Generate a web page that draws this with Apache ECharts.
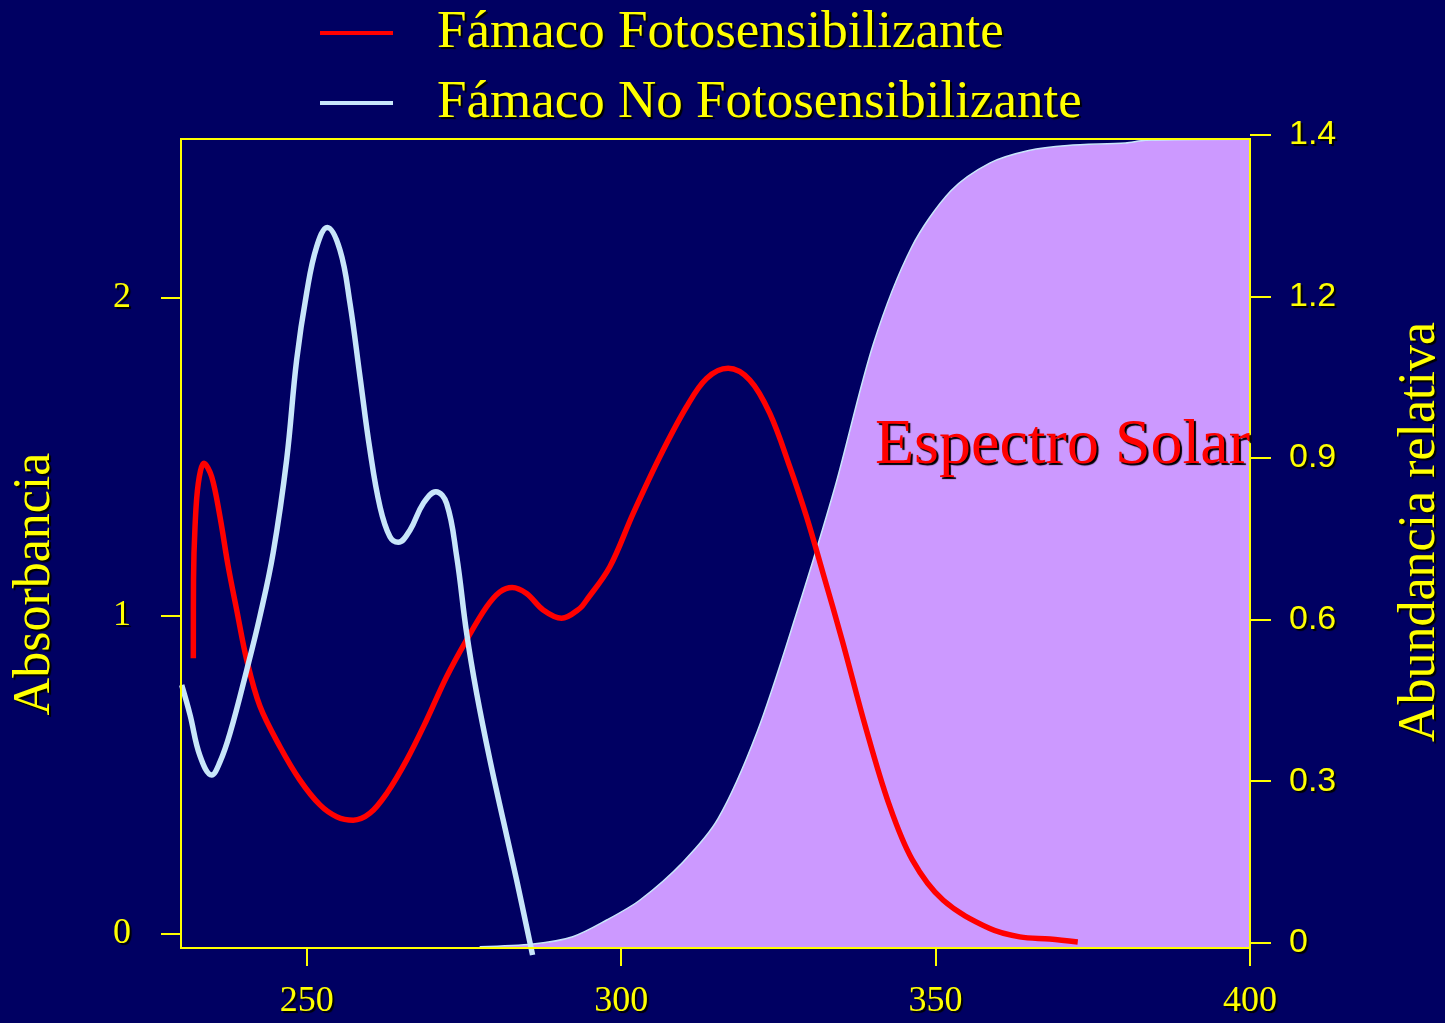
<!DOCTYPE html>
<html>
<head>
<meta charset="utf-8">
<script src="https://cdn.jsdelivr.net/npm/echarts@6/dist/echarts.min.js"></script>
<style>
html,body{margin:0;padding:0;background:#000062;}
#chart{width:1445px;height:1023px;}
</style>
</head>
<body>
<div id="chart"></div>
<script>
// ---- data ----
const redName = 'Fámaco Fotosensibilizante';
const blueName = 'Fámaco No Fotosensibilizante';

const redWavelengths = [231.96, 231.99, 232.23, 232.75, 233.66, 234.88, 236.20, 237.47, 238.86, 240.45, 242.56, 245.74, 248.92, 252.10, 254.75, 257.39, 260.05, 262.70, 265.88, 269.06, 272.24, 275.42, 278.60, 280.72, 282.67, 284.96, 287.60, 290.52, 293.43, 294.50, 298.20, 301.91, 306.15, 310.40, 313.58, 317.01, 320.46, 323.64, 326.82, 329.48, 332.11, 335.14, 338.86, 342.56, 346.28, 351.22, 358.62, 363.39, 368.16, 372.61];
const redAbsorbance = [0.867, 1.113, 1.281, 1.417, 1.480, 1.438, 1.312, 1.160, 1.019, 0.862, 0.716, 0.589, 0.484, 0.406, 0.369, 0.358, 0.380, 0.442, 0.547, 0.673, 0.809, 0.925, 1.029, 1.076, 1.090, 1.071, 1.019, 0.993, 1.024, 1.050, 1.155, 1.323, 1.501, 1.658, 1.747, 1.779, 1.742, 1.637, 1.469, 1.312, 1.134, 0.924, 0.651, 0.410, 0.234, 0.106, 0.017, -0.009, -0.016, -0.025];

const blueWavelengths = [230.11, 231.43, 233.02, 234.88, 236.20, 237.79, 240.45, 242.56, 244.67, 246.80, 248.39, 249.98, 251.57, 253.26, 255.28, 256.87, 258.46, 260.05, 261.64, 263.23, 264.55, 266.41, 268.52, 270.54, 272.24, 273.83, 275.42, 277.01, 279.13, 281.24, 283.37, 285.91];
const blueAbsorbance = [0.783, 0.690, 0.560, 0.500, 0.541, 0.631, 0.830, 1.000, 1.200, 1.491, 1.805, 2.016, 2.161, 2.222, 2.151, 1.984, 1.753, 1.522, 1.344, 1.249, 1.232, 1.270, 1.354, 1.391, 1.354, 1.189, 0.947, 0.758, 0.547, 0.358, 0.170, -0.066];

const solarWavelengths = [277.5, 286.0, 292.3, 297.7, 303.0, 309.8, 315.4, 321.6, 327.8, 334.0, 340.1, 346.2, 352.4, 358.6, 364.8, 371.0, 380.2, 383.4, 400.0];
const solarAbundance = [-0.0074, -0.0024, 0.0112, 0.0421, 0.0793, 0.1495, 0.2302, 0.3907, 0.6084, 0.8462, 1.1118, 1.2920, 1.3960, 1.4479, 1.4713, 1.4807, 1.4853, 1.4902, 1.4922];

const xTickValues = [250, 300, 350, 400];
const leftTickValues = [0, 1, 2];
const rightTickValues = [0, 0.3, 0.6, 0.9, 1.2, 1.5];
const rightTickLabels = ['0', '0.3', '0.6', '0.9', '1.2', '1.4'];

const leftTitle = 'Absorbancia';
const rightTitle = 'Abundancia relativa';
const annotation = 'Espectro Solar';

// ---- styling ----
const YELLOW = '#FFFF00';
const RED = '#FF0000';
const LIGHTBLUE = '#C8E6FA';
const LAVENDER = '#CC99FF';
const SERIF = '"Liberation Serif", "Times New Roman", serif';
const SANS = '"Liberation Sans", Arial, sans-serif';
const shadow = {textShadowColor: 'rgba(0,0,0,1)', textShadowOffsetX: 2, textShadowOffsetY: 2, textShadowBlur: 1};

function pairs(xs, ys) { return xs.map((x, i) => [x, ys[i]]); }

const chart = echarts.init(document.getElementById('chart'), null, {renderer: 'canvas'});

const option = {
  backgroundColor: '#000062',
  animation: false,
  legend: {
    data: [redName, blueName],
    orient: 'vertical',
    left: 320,
    top: 5,
    padding: 0,
    icon: 'rect',
    itemWidth: 73,
    itemHeight: 4,
    itemGap: 14,
    textStyle: Object.assign({color: YELLOW, fontFamily: SERIF, fontSize: 53, lineHeight: 56, padding: [0, 0, 0, 39]}, shadow)
  },
  grid: [
    {left: 181, right: 195, top: 139, bottom: 75, show: true, borderColor: YELLOW, borderWidth: 2, backgroundColor: 'transparent', z: 10},
    {left: 181, right: 195, top: 135, bottom: 75, show: false}
  ],
  xAxis: [
    {
      type: 'value', gridIndex: 0, min: 230, max: 400,
      axisLine: {show: true, onZero: false, lineStyle: {color: YELLOW, width: 2}},
      splitLine: {show: false},
      axisTick: {show: true, customValues: xTickValues, length: 18, lineStyle: {color: YELLOW, width: 2}},
      axisLabel: Object.assign({customValues: xTickValues, color: YELLOW, fontFamily: SERIF, fontSize: 36, margin: 36}, shadow)
    },
    {type: 'value', gridIndex: 1, min: 230, max: 400, show: false}
  ],
  yAxis: [
    {
      type: 'value', gridIndex: 0, position: 'left', min: -0.044, max: 2.5,
      axisLine: {show: true, onZero: false, lineStyle: {color: YELLOW, width: 2}},
      splitLine: {show: false},
      axisTick: {show: true, customValues: leftTickValues, length: 20, lineStyle: {color: YELLOW, width: 2}},
      axisLabel: Object.assign({customValues: leftTickValues, color: YELLOW, fontFamily: SERIF, fontSize: 36, margin: 50}, shadow)
    },
    {
      type: 'value', gridIndex: 1, position: 'right', min: -0.00984, max: 1.5,
      axisLine: {show: false, onZero: false},
      splitLine: {show: false},
      axisTick: {show: true, customValues: rightTickValues, length: 21, lineStyle: {color: YELLOW, width: 2}},
      axisLabel: Object.assign({
        customValues: rightTickValues, color: YELLOW, fontFamily: SANS, fontSize: 34, margin: 39,
        formatter: function (v) {
          const i = rightTickValues.findIndex(t => Math.abs(t - v) < 1e-6);
          return i >= 0 ? rightTickLabels[i] : '';
        }
      }, shadow)
    }
  ],
  series: [
    {
      name: 'Espectro Solar', type: 'line', xAxisIndex: 1, yAxisIndex: 1, z: 1,
      data: pairs(solarWavelengths, solarAbundance),
      smooth: 0.3, showSymbol: false, symbol: 'none',
      lineStyle: {color: LIGHTBLUE, width: 1.5},
      areaStyle: {color: LAVENDER, opacity: 1, origin: 'start'}
    },
    {
      name: redName, type: 'line', xAxisIndex: 0, yAxisIndex: 0, z: 3,
      data: pairs(redWavelengths, redAbsorbance),
      smooth: 0.35, showSymbol: false, symbol: 'none',
      itemStyle: {color: RED},
      lineStyle: {color: RED, width: 5.5}
    },
    {
      name: blueName, type: 'line', xAxisIndex: 0, yAxisIndex: 0, z: 4, clip: false,
      data: pairs(blueWavelengths, blueAbsorbance),
      smooth: 0.4, showSymbol: false, symbol: 'none',
      itemStyle: {color: LIGHTBLUE},
      lineStyle: {color: LIGHTBLUE, width: 5.5}
    }
  ],
  graphic: [
    {
      type: 'text', x: 875, y: 446, z: 20,
      style: Object.assign({text: annotation, fill: RED, font: '64px ' + SERIF, align: 'left', verticalAlign: 'middle'}, shadow)
    },
    {
      type: 'text', x: 35, y: 584, rotation: Math.PI / 2, z: 20,
      style: Object.assign({text: leftTitle, fill: YELLOW, font: '52px ' + SERIF, align: 'center', verticalAlign: 'middle'}, shadow)
    },
    {
      type: 'text', x: 1420, y: 532, rotation: Math.PI / 2, z: 20,
      style: Object.assign({text: rightTitle, fill: YELLOW, font: '52px ' + SERIF, align: 'center', verticalAlign: 'middle'}, shadow)
    }
  ]
};

chart.setOption(option);
</script>
</body>
</html>
